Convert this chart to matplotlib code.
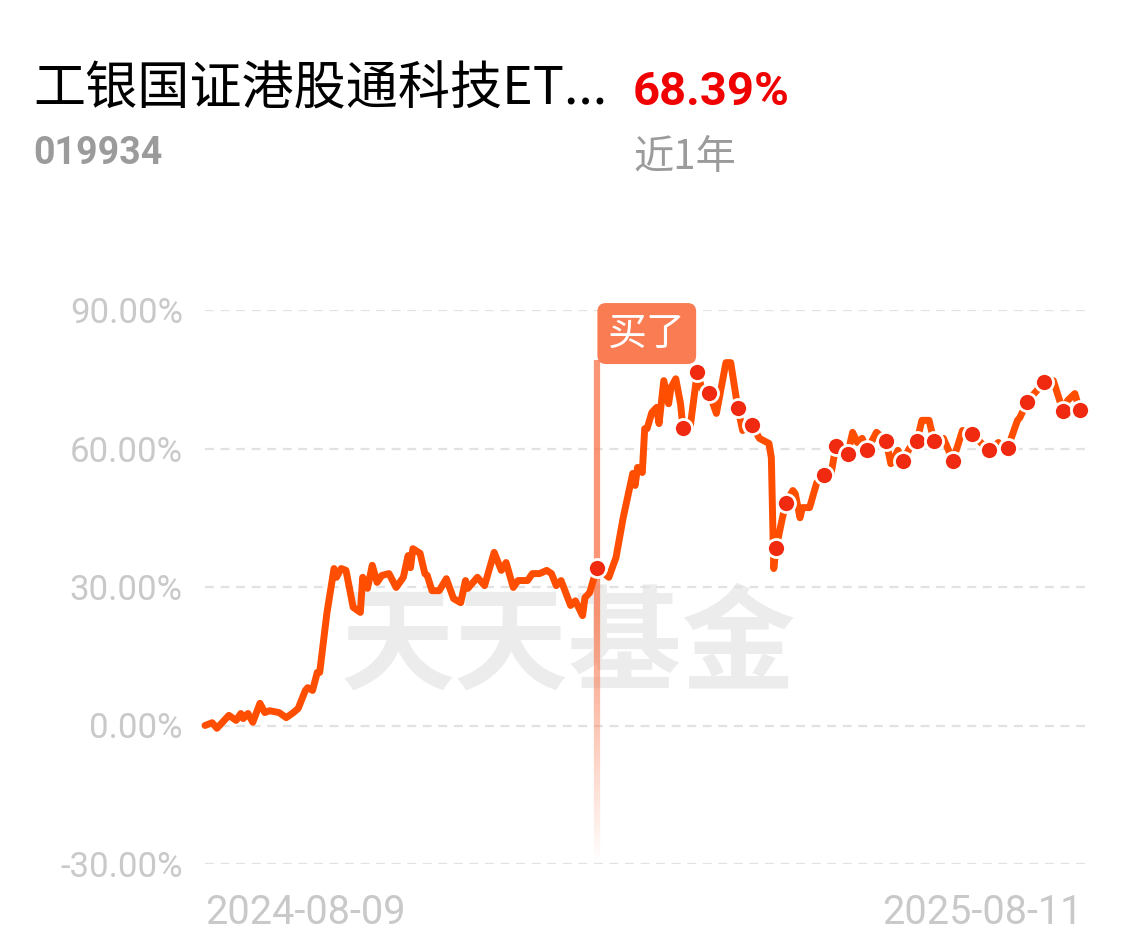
import matplotlib
matplotlib.use("Agg")
import matplotlib.pyplot as plt
import matplotlib.transforms as mtransforms
from matplotlib.collections import LineCollection
import numpy as np

plt.rcParams['font.family'] = ['Roboto', 'Noto Sans CJK SC', 'DejaVu Sans']

fund_name = "工银国证港股通科技ET..."
fund_code = "019934"
period_return = "68.39%"
period_label = "近1年"
watermark = "天天基金"
buy_label = "买了"
start_date = "2024-08-09"
end_date = "2025-08-11"
total_days = 367

# days since start date, cumulative return in %
day_offset = [0, 3, 5, 10, 13, 15, 16, 18, 20, 23, 25, 27, 31, 34, 37, 39, 42, 43, 45, 47,
              48, 51, 54, 55, 57, 59, 62, 65, 66, 68, 70, 72, 74, 77, 80, 83, 85, 86, 87, 90,
              92, 93, 95, 98, 101, 104, 107, 109, 110, 114, 117, 121, 124, 126, 129, 131, 135,
              137, 140, 143, 145, 147, 149, 153, 155, 158, 159, 161, 164, 169, 172, 175, 179,
              180, 181, 183, 184, 185, 187, 189, 190, 192, 194, 195, 197, 199, 200, 203, 206,
              209, 211, 214, 218, 220, 223, 225, 227, 229, 232, 236, 237, 238, 239, 243, 246,
              247, 249, 250, 253, 256, 259, 262, 264, 269, 271, 273, 275, 277, 281, 285, 287,
              290, 292, 295, 298, 300, 303, 305, 309, 313, 317, 321, 325, 328, 332, 334, 336,
              340, 341, 344, 347, 351, 355, 359, 361, 364, 366]
returns = [0.0, 0.6, -0.6, 2.2, 1.1, 2.6, 1.5, 2.6, 0.7, 4.8, 2.8, 3.2, 2.8, 1.7, 2.8, 3.7, 7.6, 8.2, 7.6, 11.5,
           11.5, 24.3, 34.0, 32.1, 34.0, 33.6, 25.6, 24.5, 32.1, 29.7, 34.7, 31.0, 32.5, 32.9, 29.9, 32.1, 36.8, 34.2, 38.3, 37.3,
           32.9, 32.5, 29.2, 29.2, 31.8, 27.5, 26.6, 31.4, 29.7, 32.1, 30.3, 37.5, 33.6, 35.3, 29.9, 31.4, 31.4,
           32.9, 32.9, 33.6, 32.9, 30.3, 31.4, 26.0, 27.0, 23.8, 27.7, 28.8, 34.2, 32.1, 36.4, 45.0, 54.6,
           52.0, 55.9, 54.8, 64.3, 64.3, 67.8, 68.9, 65.4, 74.7, 69.7, 73.2, 75.1, 69.7, 64.5, 64.5, 76.5,
           71.0, 72.1, 67.6, 78.6, 78.6, 68.7, 63.9, 65.0, 65.0, 62.2, 61.1, 58.0, 34.0, 38.5, 48.3, 50.9,
           50.2, 45.0, 47.2, 47.2, 52.6, 54.2, 54.5, 60.6, 58.9, 63.5, 61.3, 62.2, 59.6, 63.5, 61.7, 56.7,
           59.6, 57.4, 60.2, 61.7, 66.1, 66.1, 61.7, 62.2, 57.4, 63.9, 63.2, 61.1, 59.6, 61.3, 59.6, 60.2,
           66.1, 66.7, 70.0, 71.9, 74.3, 74.7, 68.2, 70.4, 71.9, 68.39]

buy_day = 164
dot_days = [164, 200, 206, 211, 223, 229, 239, 243, 259, 264, 269, 277, 285, 292, 298,
            305, 313, 321, 328, 336, 344, 351, 359, 366]
y_ticks = [-30, 0, 30, 60, 90]

line_color = "#ff4e00"
dot_color = "#f02a10"
buy_color = "#f97c52"
grey_text = "#c9c9c9"

W, H = 1138, 949
fig = plt.figure(figsize=(W / 100, H / 100), dpi=100)
fig.patch.set_facecolor("white")

# axes placed in pixels: x 205..1088, y 310..864
ax = fig.add_axes([205 / W, (H - 864) / H, 883 / W, 554 / H])
ax.set_xlim(0, total_days * 883 / 877)
ax.set_ylim(-30, 90)
for s in ax.spines.values():
    s.set_visible(False)

# dashed grid
for v in y_ticks:
    ax.axhline(v, color="#e2e2e2", lw=1.6, ls=(0, (4, 3)), zorder=1)

ax.set_yticks(y_ticks)
ax.set_yticklabels([f"{v:.2f}%" for v in y_ticks], fontsize=25, color=grey_text)
ax.tick_params(axis="y", length=0, pad=16)
ax.set_xticks([0, total_days])
ax.set_xticklabels([start_date, end_date], fontsize=28.5, color=grey_text)
ax.tick_params(axis="x", length=0, pad=21)
xl = ax.get_xticklabels()
xl[0].set_ha("left")
xl[1].set_ha("right")

# watermark
ax.text(152, 17.0, watermark, fontsize=82, fontweight="bold", color="#ececec",
        family=["Noto Sans CJK SC"], ha="center", va="center", zorder=0)

# buy marker line fading downward
y_top, y_bot = 79.2, -29
ys = np.linspace(y_top, y_bot, 120)
segs = [[(buy_day, ys[i]), (buy_day, ys[i + 1])] for i in range(len(ys) - 1)]
alphas = []
for yy in ys[:-1]:
    if yy > 25:
        alphas.append(0.8)
    else:
        alphas.append(max(0.0, 0.8 * (yy - y_bot) / (25 - y_bot)))
rgba = np.array([matplotlib.colors.to_rgba(buy_color, a) for a in alphas])
ax.add_collection(LineCollection(segs, colors=rgba, linewidths=4.5, zorder=2))

offset = mtransforms.ScaledTranslation(11 / 100, 0, fig.dpi_scale_trans)
ax.text(buy_day, 84.9, buy_label, transform=ax.transData + offset, fontsize=28,
        color="white", family=["Noto Sans CJK SC"], ha="left", va="center", zorder=5,
        bbox=dict(boxstyle="round,pad=0.27,rounding_size=0.22", fc=buy_color, ec="none"))

ax.plot(day_offset, returns, color=line_color, lw=5, solid_joinstyle="round",
        solid_capstyle="round", zorder=3, clip_on=False)

dot_vals = [returns[day_offset.index(d)] for d in dot_days]
ax.plot(dot_days, dot_vals, ls="none", marker="o", ms=13, mfc=dot_color,
        mec="white", mew=2, zorder=4, clip_on=False)

# header texts
fig.text(33 / W, 1 - 90 / H, fund_name, fontsize=37.5, color="black",
         family=["Noto Sans CJK SC", "DejaVu Sans"], ha="left", va="center")
fig.text(633 / W, 1 - 92 / H, period_return, fontsize=34, color="#f00000",
         fontweight="bold", family=["Roboto"], ha="left", va="center")
fig.text(33 / W, 1 - 154 / H, fund_code, fontsize=27, color="#9b9b9b",
         fontweight="bold", family=["Roboto"], ha="left", va="center")
fig.text(633 / W, 1 - 157 / H, period_label, fontsize=29, color="#9b9b9b",
         family=["Noto Sans CJK SC", "DejaVu Sans"], ha="left", va="center")

fig.savefig("out.png", dpi=100, facecolor="white")
